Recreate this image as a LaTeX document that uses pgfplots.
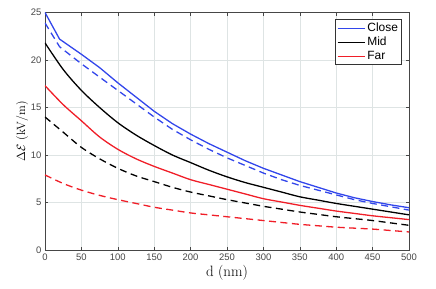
\documentclass[border=0pt]{standalone}
\usepackage[no-math]{fontspec}
\newfontfamily\sansf{Liberation Sans}
\usepackage{pgfplots}
\pgfplotsset{compat=1.18}
\definecolor{cblue}{RGB}{50,70,235}
\definecolor{cred}{RGB}{240,30,40}
\definecolor{tickgray}{RGB}{70,70,70}
\definecolor{gridgray}{RGB}{222,228,228}
\begin{document}
\begin{tikzpicture}
\useasboundingbox (-45bp,-39bp) rectangle (391bp,250bp);
\begin{axis}[
  at={(0,0)}, anchor=south west,
  scale only axis, width=364bp, height=237.5bp,
  xmin=0, xmax=500, ymin=0, ymax=25,
  xtick={0,50,...,500}, ytick={0,5,...,25},
  grid=major,
  major grid style={gridgray, line width=0.6pt},
  axis line style={tickgray, line width=0.6pt},
  tick style={tickgray, line width=0.6pt},
  major tick length=3.5bp,
  tick align=inside,
  ticklabel style={font=\sansf\fontsize{9.5}{10}\selectfont, text=tickgray},
  /pgf/number format/assume math mode=true,
  xlabel={d (nm)},
  xlabel style={font=\fontsize{15}{16}\selectfont, yshift=2bp},
  ylabel={$\Delta\mathcal{E}$ (kV/m)},
  ylabel style={font=\fontsize{12}{13}\selectfont, yshift=-4bp},
  legend style={at={(rel axis cs:0.98,0.971)}, anchor=north east,
    draw=black!80, line width=0.6pt, font=\sansf\fontsize{12}{12}\selectfont,
    inner sep=1.5pt, row sep=0pt, cells={anchor=west}},
  legend image code/.code={\draw[mark repeat=2,mark phase=2,#1] plot coordinates {(0bp,0bp) (13.5bp,0bp) (27bp,0bp)};},
  every axis plot/.append style={line width=1.3pt},
]
\addplot[cblue] coordinates {(0,25.0) (20,22.2) (50,20.6) (75,19.2) (100,17.6) (125,16.1) (150,14.6) (175,13.3) (200,12.2) (225,11.2) (250,10.3) (275,9.4) (300,8.6) (325,7.9) (350,7.2) (375,6.6) (400,6.0) (425,5.5) (450,5.1) (475,4.75) (500,4.45)};
\addlegendentry{Close}
\addplot[black, smooth] coordinates {(0,21.8) (25,19.0) (50,16.8) (75,15.0) (100,13.4) (125,12.1) (150,11.0) (175,10.0) (200,9.2) (225,8.4) (250,7.7) (275,7.1) (300,6.6) (325,6.1) (350,5.6) (375,5.25) (400,4.9) (425,4.6) (450,4.3) (475,4.0) (500,3.7)};
\addlegendentry{Mid}
\addplot[cred, smooth] coordinates {(0,17.3) (25,15.3) (50,13.6) (75,11.9) (100,10.6) (125,9.6) (150,8.8) (175,8.1) (200,7.4) (225,6.9) (250,6.4) (275,5.9) (300,5.4) (325,5.05) (350,4.7) (375,4.4) (400,4.1) (425,3.85) (450,3.6) (475,3.4) (500,3.2)};
\addlegendentry{Far}
\addplot[cblue, dash pattern=on 7bp off 4.5bp, forget plot] coordinates {(0,23.9) (20,21.4) (50,19.6) (75,18.2) (100,16.8) (125,15.4) (150,14.0) (175,12.7) (200,11.6) (225,10.6) (250,9.7) (275,8.9) (300,8.1) (325,7.4) (350,6.8) (375,6.3) (400,5.8) (425,5.3) (450,4.9) (475,4.55) (500,4.2)};
\addplot[black, smooth, dash pattern=on 7bp off 4.5bp, forget plot] coordinates {(0,14.0) (25,12.4) (50,10.8) (75,9.6) (100,8.6) (125,7.8) (150,7.2) (175,6.6) (200,6.1) (225,5.7) (250,5.3) (275,4.95) (300,4.6) (325,4.3) (350,4.0) (375,3.75) (400,3.5) (425,3.3) (450,3.1) (475,2.85) (500,2.6)};
\addplot[cred, smooth, dash pattern=on 7bp off 4.5bp, forget plot] coordinates {(0,7.9) (25,7.0) (50,6.3) (75,5.75) (100,5.3) (125,4.9) (150,4.5) (175,4.2) (200,3.9) (225,3.7) (250,3.5) (275,3.3) (300,3.1) (325,2.9) (350,2.7) (375,2.55) (400,2.4) (425,2.3) (450,2.2) (475,2.05) (500,1.9)};
\end{axis}
\end{tikzpicture}
\end{document}
